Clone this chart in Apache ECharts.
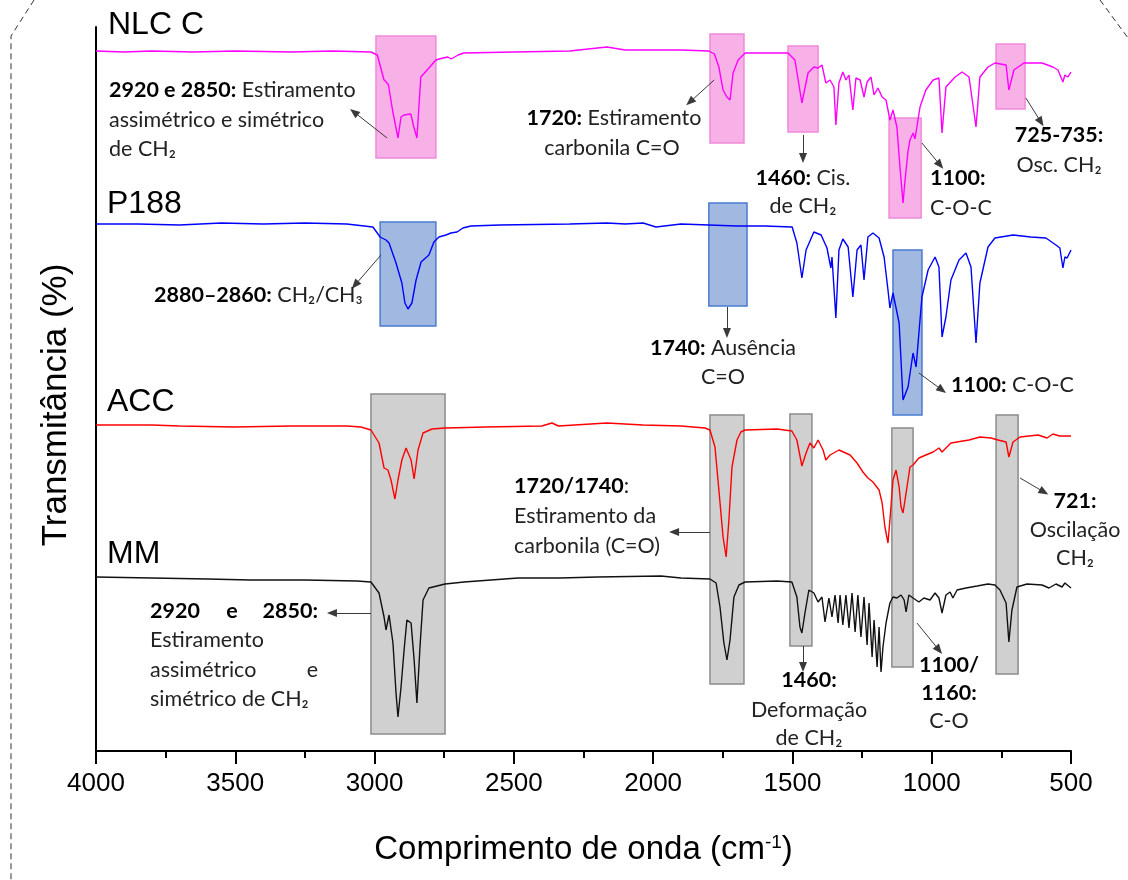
<!DOCTYPE html>
<html>
<head>
<meta charset="utf-8">
<script src="https://cdn.jsdelivr.net/npm/echarts@6/dist/echarts.min.js"></script>
<style>html,body{margin:0;padding:0;background:#fff}#c{width:1128px;height:880px}</style>
</head>
<body>
<div id="c"></div>
<script>
// ---------- DATA (wavenumber cm-1, relative transmittance) ----------
const xTicks = [4000, 3500, 3000, 2500, 2000, 1500, 1000, 500];
const seriesNames = ['NLC C', 'P188', 'ACC', 'MM'];

const nlcC = [[4000,0],[3900,-1],[3800,0],[3650,-1],[3500,0],[3300,-1],[3150,0],[3013,-1],[2990,-4],[2966,-29],[2958,-31],[2950,-34],[2935,-60],[2916,-87],[2905,-66],[2895,-64],[2870,-63],[2860,-75],[2848,-87],[2834,-26],[2805,-17],[2780,-9],[2755,-7],[2737,-6],[2725,-8],[2700,-4],[2680,-2],[2500,-1],[2300,0],[2166,4],[2100,1],[1900,1],[1800,0],[1780,-3],[1764,-16],[1749,-39],[1735,-46],[1729,-44],[1724,-49],[1713,-22],[1695,-9],[1670,-2],[1600,-2],[1516,-2],[1491,-9],[1466,-52],[1444,-22],[1423,-16],[1408,-17],[1394,-14],[1380,-32],[1365,-29],[1351,-36],[1344,-74],[1333,-32],[1319,-21],[1308,-29],[1297,-24],[1283,-59],[1272,-27],[1257,-29],[1243,-46],[1232,-31],[1218,-26],[1207,-44],[1193,-37],[1178,-46],[1164,-49],[1150,-69],[1139,-59],[1125,-76],[1114,-116],[1103,-152],[1096,-130],[1085,-100],[1078,-89],[1067,-82],[1060,-88],[1053,-89],[1042,-56],[1021,-39],[995,-29],[974,-27],[963,-82],[949,-36],[916,-26],[891,-21],[866,-26],[841,-76],[827,-26],[798,-16],[773,-12],[733,-14],[723,-39],[705,-19],[669,-12],[604,-12],[565,-16],[547,-19],[529,-31],[522,-24],[511,-26],[500,-21]];

const p188 = [[4000,0],[3850,0],[3700,-1],[3550,1],[3400,0],[3250,1],[3100,0],[3006,-3],[2980,-13],[2959,-16],[2948,-19],[2923,-39],[2902,-59],[2891,-79],[2880,-85],[2866,-79],[2851,-56],[2833,-38],[2805,-31],[2787,-18],[2769,-13],[2744,-11],[2726,-9],[2704,-8],[2683,-4],[2654,-2],[2550,-1],[2300,0],[2166,1],[2100,0],[2036,1],[1990,-3],[1960,-2],[1900,0],[1700,-2],[1600,-2],[1501,-3],[1484,-19],[1466,-54],[1451,-26],[1423,-8],[1397,-11],[1376,-24],[1362,-44],[1358,-33],[1344,-94],[1333,-26],[1319,-15],[1300,-23],[1283,-73],[1268,-26],[1254,-21],[1243,-56],[1229,-13],[1211,-9],[1189,-14],[1171,-33],[1157,-66],[1150,-84],[1139,-69],[1117,-99],[1103,-176],[1085,-163],[1067,-129],[1056,-143],[1046,-109],[1035,-73],[1013,-46],[988,-33],[974,-43],[963,-113],[949,-93],[931,-56],[902,-36],[877,-29],[859,-43],[841,-119],[827,-59],[798,-23],[773,-14],[708,-11],[644,-13],[590,-14],[554,-21],[540,-24],[529,-44],[522,-33],[514,-34],[500,-26]];

const acc = [[4000,0],[3800,0],[3700,-1],[3505,-2],[3300,-1],[3100,-1],[3049,-2],[3013,-5],[2984,-18],[2966,-43],[2952,-45],[2941,-55],[2927,-74],[2916,-55],[2902,-35],[2887,-23],[2869,-35],[2858,-54],[2844,-25],[2826,-8],[2794,-4],[2747,-3],[2600,-2],[2400,-1],[2363,2],[2340,-1],[2166,2],[2036,0],[1900,-1],[1814,-3],[1796,-5],[1778,-22],[1764,-65],[1749,-112],[1738,-132],[1728,-95],[1717,-42],[1699,-15],[1685,-7],[1670,-5],[1555,-4],[1502,-6],[1484,-15],[1466,-41],[1451,-28],[1437,-18],[1423,-23],[1408,-15],[1390,-25],[1380,-35],[1365,-30],[1333,-25],[1293,-30],[1268,-38],[1247,-47],[1229,-53],[1211,-57],[1189,-65],[1178,-78],[1168,-102],[1157,-118],[1150,-95],[1139,-55],[1128,-45],[1117,-62],[1110,-82],[1103,-88],[1092,-68],[1078,-42],[1067,-40],[1046,-33],[1021,-30],[995,-27],[974,-23],[963,-27],[931,-18],[866,-15],[827,-12],[787,-13],[762,-15],[733,-17],[723,-32],[708,-17],[683,-12],[618,-10],[586,-13],[565,-9],[540,-11],[500,-11]];

const mm = [[4000,0],[3800,-1],[3600,-2],[3447,-3],[3250,-3],[3063,-4],[3013,-5],[2984,-16],[2966,-40],[2959,-53],[2948,-38],[2934,-66],[2923,-116],[2916,-140],[2905,-110],[2894,-73],[2884,-43],[2869,-46],[2858,-83],[2848,-126],[2837,-70],[2826,-23],[2805,-11],[2747,-7],[2679,-5],[2485,-1],[2334,-1],[2200,0],[1972,1],[1900,-1],[1796,-2],[1774,-6],[1760,-30],[1746,-66],[1735,-83],[1724,-63],[1710,-20],[1692,-8],[1670,-5],[1555,-4],[1502,-5],[1484,-20],[1473,-50],[1466,-56],[1455,-36],[1441,-13],[1423,-16],[1408,-25],[1394,-20],[1383,-45],[1369,-21],[1358,-40],[1347,-18],[1336,-46],[1329,-18],[1319,-48],[1308,-18],[1297,-51],[1286,-16],[1275,-55],[1265,-18],[1254,-60],[1243,-20],[1232,-68],[1225,-26],[1214,-80],[1207,-43],[1196,-90],[1189,-50],[1182,-95],[1175,-70],[1164,-46],[1150,-26],[1139,-20],[1125,-21],[1110,-18],[1099,-23],[1092,-35],[1082,-18],[1067,-21],[1046,-25],[1028,-21],[1006,-23],[988,-16],[974,-21],[963,-36],[949,-18],[934,-15],[924,-21],[909,-13],[877,-11],[837,-9],[798,-7],[773,-8],[755,-13],[733,-26],[723,-65],[712,-33],[694,-10],[658,-7],[604,-8],[579,-11],[554,-7],[532,-10],[522,-6],[500,-11]];

// highlighted bands: [wnFrom, wnTo, yFrom, yTo] in chart units
const pinkBands = [[2995,2780,593,715],[1796,1674,608,717],[1516,1408,619,705],[1153,1038,533,633],[769,665,642,707]];
const blueBands = [[2980,2780,425,529],[1800,1663,445,548],[1139,1035,336,501]];
const grayBands = [[3013,2747,17,357],[1796,1674,67,336],[1509,1430,105,337],[1143,1067,84,323],[769,690,77,336]];
// arrows: [wnFrom, yFrom, wnTo, yTo]
const arrows = [[2955,613,3074,639],[1781,671,1868,649],[1462,616,1462,593],[1035,608,970,586],[662,653,608,629],
  [2977,496,3070,466],[1735,444,1735,418],[1046,378,963,361],
  [1796,219,1925,219],[683,273,597,259],[3013,138,3153,138],[1462,105,1462,84],[1053,128,974,101]];

// ---------- LAYOUT ----------
const offsets = [700, 527, 326, 174];
const colors = ['#FF00FF', '#0000FF', '#FF0000', '#111111'];
const spectra = [nlcC, p188, acc, mm];
const AF = "'Liberation Sans', Arial, sans-serif";
const NF = "Lato, 'Open Sans', sans-serif";
const NS = 21.5;

const chart = echarts.init(document.getElementById('c'), null, {renderer: 'canvas'});

const series = spectra.map((d, i) => ({
  name: seriesNames[i], type: 'line', showSymbol: false, silent: true, z: 3,
  lineStyle: {color: colors[i], width: 1.4}, itemStyle: {color: colors[i]},
  data: d.map(p => [p[0], p[1] + offsets[i]])
}));

function bandItems(list, fill, border) {
  return list.map(b => [
    {coord: [b[0], b[2]], itemStyle: {color: fill, borderColor: border, borderWidth: 1.5}},
    {coord: [b[1], b[3]]}
  ]);
}
series.push({
  type: 'line', data: [], silent: true, z: 5,
  markArea: {silent: true, label: {show: false},
    data: [].concat(bandItems(pinkBands, 'rgba(240,100,205,0.5)', '#F08ADB'),
                    bandItems(blueBands, 'rgba(68,114,196,0.5)', '#4A7BD0'),
                    bandItems(grayBands, 'rgba(150,150,150,0.45)', '#8C8C8C'))},
  markLine: {silent: true, symbol: ['none', 'triangle'], symbolSize: [8, 10], label: {show: false},
    lineStyle: {color: '#3a3a3a', width: 1, type: 'solid'},
    data: arrows.map(a => [{coord: [a[0], a[1]]}, {coord: [a[2], a[3]]}])}
});

function T(x, base, parts, align, size) {
  size = size || NS;
  let s = '';
  parts.forEach(p => { s += p[1] ? '{b|' + p[0] + '}' : '{n|' + p[0] + '}'; });
  return {type: 'text', z: 10, silent: true, style: {
    x: x, y: base - 0.34 * size, text: s, align: align || 'left', verticalAlign: 'middle',
    rich: {b: {fontFamily: NF, fontSize: size, fontWeight: 'bold', fill: '#000'},
           n: {fontFamily: NF, fontSize: size, fontWeight: 'normal', fill: '#222'}}
  }};
}
function S(x, base, text) {
  return {type: 'text', z: 10, silent: true, style: {x: x, y: base - 0.35 * 32, text: text,
    fontFamily: AF, fontSize: 32, fill: '#000', align: 'left', verticalAlign: 'middle'}};
}

const graphics = [
  S(108, 36, 'NLC C'), S(107, 215, 'P188'), S(107, 413, 'ACC'), S(107, 565, 'MM'),
  {type: 'text', silent: true, x: 56, y: 405, rotation: Math.PI / 2,
   style: {x: 0, y: 0, text: 'Transmitância (%)', fontFamily: AF, fontSize: 35, fill: '#000', align: 'center', verticalAlign: 'middle'}},
  T(109, 97, [['2920 e 2850:', 1], [' Estiramento']]),
  T(109, 127, [['assimétrico e simétrico']]),
  T(109, 156, [['de CH₂']]),
  T(614, 125, [['1720:', 1], [' Estiramento']], 'center'),
  T(612, 155, [['carbonila C=O']], 'center'),
  T(803, 185, [['1460:', 1], [' Cis.']], 'center'),
  T(803, 213, [['de CH₂']], 'center'),
  T(930, 185, [['1100:', 1]]),
  T(930, 215, [['C-O-C']]),
  T(1059, 142, [['725-735:', 1]], 'center'),
  T(1059, 172, [['Osc. CH₂']], 'center'),
  T(154, 302, [['2880–2860:', 1], [' CH₂/CH₃']]),
  T(723, 355, [['1740:', 1], [' Ausência']], 'center'),
  T(723, 384, [['C=O']], 'center'),
  T(951, 392, [['1100:', 1], [' C-O-C']]),
  T(514, 493, [['1720/1740', 1], [':']]),
  T(514, 523, [['Estiramento da']]),
  T(514, 553, [['carbonila (C=O)']]),
  T(1075, 508, [['721:', 1]], 'center'),
  T(1075, 537, [['Oscilação']], 'center'),
  T(1075, 565, [['CH₂']], 'center'),
  T(150, 618, [['2920', 1]]), T(232, 618, [['e', 1]], 'center'), T(318, 618, [['2850:', 1]], 'right'),
  T(150, 647, [['Estiramento']]),
  T(150, 677, [['assimétrico']]), T(318, 677, [['e']], 'right'),
  T(150, 706, [['simétrico de CH₂']]),
  T(809, 687, [['1460:', 1]], 'center'),
  T(809, 717, [['Deformação']], 'center'),
  T(809, 745, [['de CH₂']], 'center'),
  T(949, 672, [['1100/', 1]], 'center'),
  T(949, 700, [['1160:', 1]], 'center'),
  T(949, 728, [['C-O']], 'center'),
  {type: 'polyline', silent: true, shape: {points: [[34, 0], [11, 36], [11, 880]]},
   style: {stroke: '#333', lineWidth: 1, lineDash: [6, 4], fill: null}},
  {type: 'polyline', silent: true, shape: {points: [[1100, 0], [1128, 38]]},
   style: {stroke: '#333', lineWidth: 1, lineDash: [6, 4], fill: null}}
];

chart.setOption({
  animation: false,
  backgroundColor: '#fff',
  grid: {left: 96, right: 57, top: 27, bottom: 129, containLabel: false},
  xAxis: {
    type: 'value', inverse: true, min: 500, max: 4000, interval: 500,
    name: 'Comprimento de onda (cm{s|-1})', nameLocation: 'middle', nameGap: 82,
    nameTextStyle: {fontFamily: AF, fontSize: 33, color: '#000',
      rich: {s: {fontFamily: AF, fontSize: 19, color: '#000', verticalAlign: 'top', lineHeight: 34, padding: [0, 0, 14, 0]}}},
    axisLine: {lineStyle: {color: '#000', width: 2}},
    axisTick: {show: true, length: 13, inside: false, lineStyle: {color: '#000', width: 2}},
    minorTick: {show: true, splitNumber: 2, length: 7, lineStyle: {color: '#000', width: 2}},
    axisLabel: {fontFamily: AF, fontSize: 26, color: '#000', margin: 20,
      customValues: xTicks, formatter: v => String(v)},
    splitLine: {show: false}, minorSplitLine: {show: false}
  },
  yAxis: {
    type: 'value', min: 0, max: 724,
    axisLine: {show: true, lineStyle: {color: '#000', width: 2}},
    axisTick: {show: false}, axisLabel: {show: false}, splitLine: {show: false}
  },
  series: series,
  graphic: graphics
});
</script>
</body>
</html>
